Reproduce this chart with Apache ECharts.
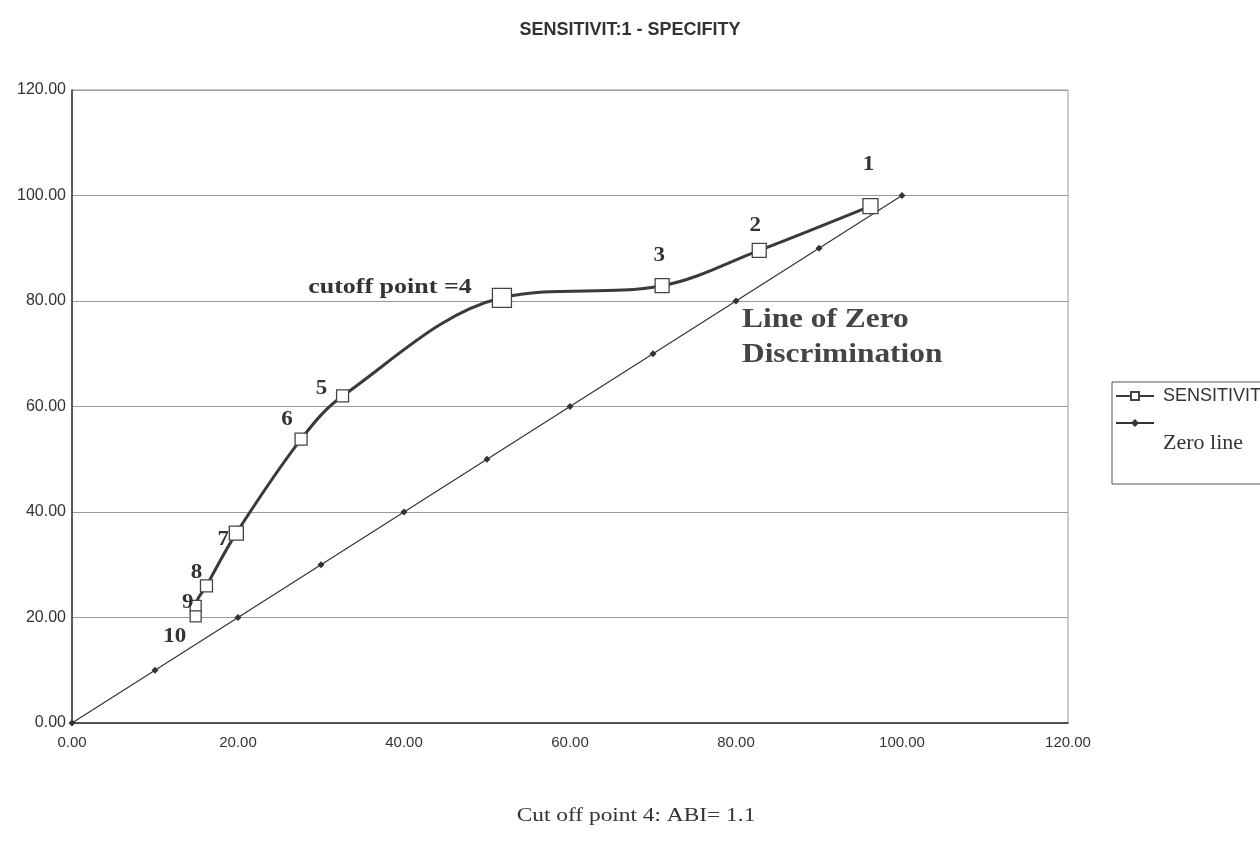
<!DOCTYPE html>
<html><head><meta charset="utf-8">
<script src="https://cdn.jsdelivr.net/npm/echarts@6/dist/echarts.min.js"></script>
<style>html,body{margin:0;padding:0;background:#fff}#c{width:1260px;height:849px}</style>
</head><body><div id="c"></div>
<script>
// ---- data ----
const sensX = [96.2, 82.8, 71.1, 51.8, 32.6, 27.6, 19.8, 16.2, 14.9, 14.9];
const sensY = [98.0, 89.6, 82.9, 80.6, 62.0, 53.8, 36.0, 26.0, 22.2, 20.2];
const pointLabels = ['1', '2', '3', 'cutoff point =4', '5', '6', '7', '8', '9', '10'];
const zeroX = [0, 10, 20, 30, 40, 50, 60, 70, 80, 90, 100];
const zeroY = [0, 10, 20, 30, 40, 50, 60, 70, 80, 90, 100];
const axisTicks = [0, 20, 40, 60, 80, 100, 120];
const titleText = 'SENSITIVIT:1 - SPECIFITY';
const footText = 'Cut off point 4: ABI= 1.1';
const annotText = 'Line of Zero\nDiscrimination';
const seriesNames = ['SENSITIVITY', 'Zero line'];

// ---- styling (not data) ----
const labelOffsets = [[-2,-41],[-4,-25],[-3,-30],[-112,-10],[-21,-7],[-14,-19],[-13,7],[-10,-13],[-8,-3],[-21,20]];
const markerSizes = [15, 14, 14, 19, 12, 12, 14, 12, 11, 11];

const chart = echarts.init(document.getElementById('c'));
const serif = '"Liberation Serif", "DejaVu Serif", serif';
const sans = '"Liberation Sans", Arial, sans-serif';

const sensData = sensX.map((x, i) => ({ value: [x, sensY[i]], symbolSize: markerSizes[i] }));

chart.setOption({
  animation: false,
  backgroundColor: '#fff',
  title: [
    { text: titleText, left: 'center', top: 16,
      textStyle: { fontFamily: sans, fontWeight: 'bold', fontSize: 18, color: '#333' } }
  ],
  grid: { left: 72, right: 192, top: 90, bottom: 126, show: true, borderColor: '#999', borderWidth: 1 },
  legend: {
    orient: 'vertical', left: 1112, top: 382, width: 300,
    borderColor: '#555', borderWidth: 1, padding: [5, 3, 30, 3], itemGap: 14,
    itemWidth: 38, itemHeight: 10,
    data: seriesNames,
    formatter: n => n === 'Zero line' ? '{z|Zero line}' : '{s|' + n + '}',
    textStyle: {
      rich: {
        s: { fontFamily: sans, fontSize: 18, color: '#333', padding: [0, 0, 0, 4] },
        z: { fontFamily: serif, fontSize: 22, color: '#333', padding: [40, 0, 0, 4] }
      }
    }
  },
  xAxis: {
    type: 'value', min: 0, max: 120, interval: 20,
    axisLine: { show: true, lineStyle: { color: '#333', width: 1.5 } },
    axisTick: { show: false },
    splitLine: { show: false },
    axisLabel: { formatter: v => axisTicks.includes(v) ? v.toFixed(2) : '', fontFamily: sans, fontSize: 15, color: '#333', margin: 12 }
  },
  yAxis: {
    type: 'value', min: 0, max: 120, interval: 20,
    axisLine: { show: true, lineStyle: { color: '#333', width: 1.5 } },
    axisTick: { show: false },
    splitLine: { show: true, lineStyle: { color: '#999', width: 1 } },
    axisLabel: { formatter: v => v.toFixed(2), fontFamily: sans, fontSize: 16, color: '#333', margin: 6 }
  },
  series: [
    {
      name: seriesNames[0], type: 'line', smooth: 0.35,
      data: sensData,
      symbol: 'rect',
      itemStyle: { color: '#fff', borderColor: '#444', borderWidth: 1.3 },
      lineStyle: { color: '#3a3a3a', width: 3 },
      z: 3
    },
    {
      name: seriesNames[1], type: 'line',
      data: zeroX.map((x, i) => [x, zeroY[i]]),
      symbol: 'diamond', symbolSize: 7,
      itemStyle: { color: '#333' },
      lineStyle: { color: '#333', width: 1.2 },
      z: 2
    }
  ]
});

// annotations placed through the chart's own scales
const pt = (x, y) => chart.convertToPixel({ gridIndex: 0 }, [x, y]);
const graphics = sensX.map((x, i) => {
  const p = pt(x, sensY[i]);
  return {
    type: 'text', x: p[0] + labelOffsets[i][0], y: p[1] + labelOffsets[i][1],
    scaleX: i === 3 ? 1.3 : 1.15, z: 100,
    style: { text: pointLabels[i], font: 'bold 20px ' + serif, fill: '#333', align: 'center', verticalAlign: 'middle' }
  };
});
graphics.push({
  type: 'text', x: 742, y: 302, scaleX: 1.12, z: 100,
  style: { text: annotText, font: 'bold 28px ' + serif, lineHeight: 35, fill: '#444', align: 'left', verticalAlign: 'top' }
});
graphics.push({
  type: 'text', x: 636, y: 816, scaleX: 1.23, z: 100,
  style: { text: footText, font: '19px ' + serif, fill: '#333', align: 'center', verticalAlign: 'middle' }
});
chart.setOption({ graphic: graphics });
</script></body></html>
